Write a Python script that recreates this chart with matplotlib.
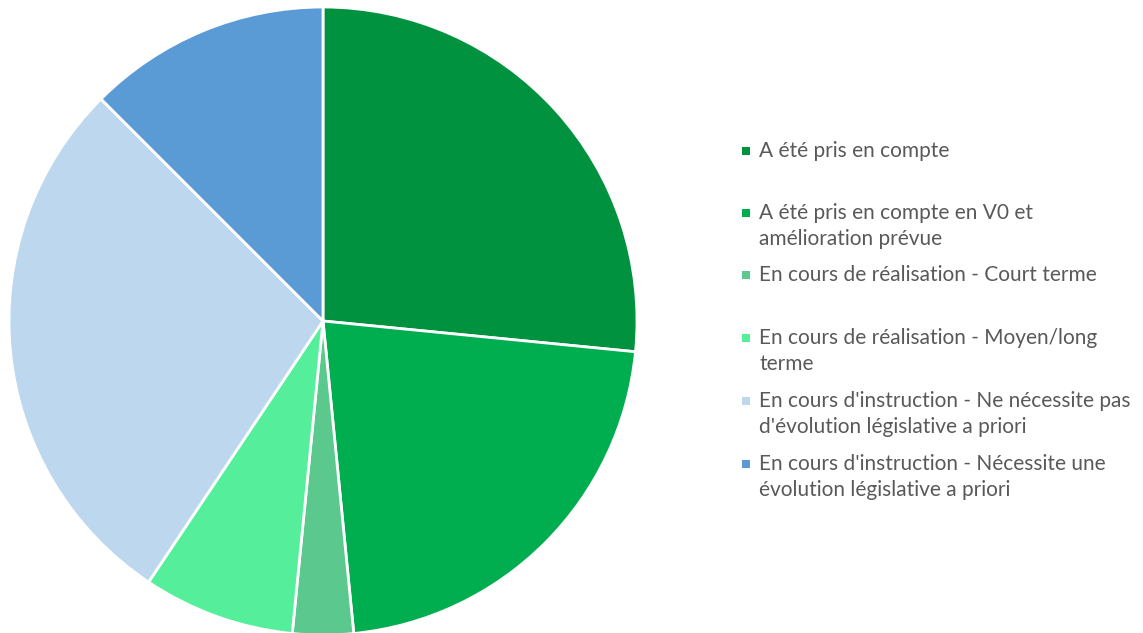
import matplotlib.pyplot as plt
from matplotlib.patches import Rectangle

W, H = 1143, 633

# Data (counts)
labels = [
    "A été pris en compte",
    "A été pris en compte en V0 et\namélioration prévue",
    "En cours de réalisation - Court terme",
    "En cours de réalisation - Moyen/long\nterme",
    "En cours d'instruction - Ne nécessite pas\nd'évolution législative a priori",
    "En cours d'instruction - Nécessite une\névolution législative a priori",
]
values = [17, 14, 2, 5, 18, 8]
colors = ["#00923F", "#00AE50", "#5BC98E", "#55EE9B", "#BDD7EE", "#5B9BD5"]

plt.rcParams['font.family'] = ['Lato', 'DejaVu Sans']

fig = plt.figure(figsize=(W / 100, H / 100), dpi=100)

# pie centre (323, 321) px, radius 314 px
cx, cy, r = 323, 321, 314
ax = fig.add_axes([(cx - r) / W, (H - cy - r) / H, 2 * r / W, 2 * r / H])
ax.pie(values, colors=colors, startangle=90, counterclock=False, radius=1,
       wedgeprops={'edgecolor': 'white', 'linewidth': 2})
ax.set_xlim(-1.0, 1.0)
ax.set_ylim(-1.0, 1.0)
ax.set_aspect('equal')
ax.axis('off')

# legend drawn by hand (entries sit on a fixed grid, marker on first line)
first_y = [151, 213, 275, 338, 401, 464]
line_gap = 26
mk_x, mk_size, txt_x = 742, 8, 759
for lab, col, y in zip(labels, colors, first_y):
    fig.add_artist(Rectangle((mk_x / W, (H - y - mk_size / 2) / H), mk_size / W, mk_size / H,
                             transform=fig.transFigure, facecolor=col, edgecolor='none'))
    for j, line in enumerate(lab.split('\n')):
        fig.text(txt_x / W, (H - y - j * line_gap) / H, line, fontsize=15,
                 color='#595959', va='center', ha='left')

fig.savefig('out.png', dpi=100, facecolor='white')
